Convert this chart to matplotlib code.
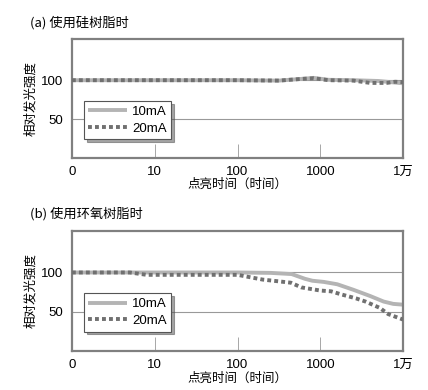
import numpy as np
import matplotlib
matplotlib.use("Agg")
import matplotlib.pyplot as plt

plt.rcParams['font.family'] = ['Liberation Sans', 'Noto Sans CJK SC', 'DejaVu Sans']

# 数据（点亮时间：小时；相对发光强度：%）
horas_a_10 = [1, 10, 100, 316, 562, 830, 1260, 2500, 5000, 10000]
vals_a_10 = [100, 100, 100, 99.5, 101.5, 103, 100.5, 100, 99, 96]
horas_a_20 = [1, 10, 100, 316, 562, 830, 1260, 2500, 4000, 6300, 8000, 10000]
vals_a_20 = [100, 100, 100, 99.5, 101.5, 102.5, 100, 99.5, 96.5, 96.5, 98, 97.5]

horas_b_10 = [1, 10, 100, 250, 450, 650, 800, 1100, 1600, 2500, 4000, 5800, 7600, 10000]
vals_b_10 = [100, 100, 100, 99.5, 98, 92, 89.5, 88, 85, 78, 70, 63, 60, 59]
horas_b_20 = [1, 5, 8, 20, 100, 200, 440, 590, 1000, 1350, 1800, 2700, 3500, 5200, 6600, 10000]
vals_b_20 = [100, 100, 97, 97, 97, 91, 87, 81, 77, 76, 72, 67, 63, 55, 47, 40]

xticks = [1, 10, 100, 1000, 10000]
xtick_labels = ["0", "10", "100", "1000", "1万"]
yticks = [50, 100]

titulos = ["(a) 使用硅树脂时", "(b) 使用环氧树脂时"]
series = [
    (horas_a_10, vals_a_10, horas_a_20, vals_a_20),
    (horas_b_10, vals_b_10, horas_b_20, vals_b_20),
]

fig = plt.figure(figsize=(4.28, 3.90), dpi=100)
posicoes = [[0.168, 0.595, 0.774, 0.305], [0.168, 0.100, 0.774, 0.308]]
cjk = ['Noto Sans CJK SC', 'DejaVu Sans']

for pos, titulo, (h10, v10, h20, v20) in zip(posicoes, titulos, series):
    ax = fig.add_axes(pos)
    ax.set_xscale('log')
    ax.set_xlim(1, 10000)
    ax.set_ylim(0, 153)
    for y in yticks:
        ax.axhline(y, color='#999999', lw=0.8, zorder=1)
    l1, = ax.plot(h10, v10, color='#b4b4b4', lw=2.8, solid_capstyle='butt', zorder=2, label='10mA')
    l2, = ax.plot(h20, v20, color='#707070', lw=2.8, linestyle=(0, (1, 0.8)),
                  dash_capstyle='butt', zorder=3, label='20mA')
    ax.set_xticks(xticks)
    ax.set_xticklabels(xtick_labels, fontsize=9.5)
    ax.xaxis.set_minor_locator(matplotlib.ticker.NullLocator())
    ax.tick_params(axis='x', direction='in', length=10, width=0.6, color='#999999', pad=6)
    ax.set_yticks(yticks)
    ax.set_yticklabels([str(y) for y in yticks], fontsize=9.5)
    ax.tick_params(axis='y', length=0, pad=6)
    for s in ax.spines.values():
        s.set_color('#808080')
        s.set_linewidth(1.6)
    ax.set_xlabel("点亮时间（时间）", fontsize=9, family=cjk, labelpad=0)
    ax.set_ylabel("相对发光强度", fontsize=9, family=cjk, labelpad=3)
    ax.text(-0.125, 1.14, titulo, transform=ax.transAxes, fontsize=9.5, family=cjk,
            ha='left', va='center')
    leg = ax.legend(handles=[l1, l2], loc='upper left', bbox_to_anchor=(0.036, 0.48),
                    fontsize=9.5, frameon=True, shadow=True, fancybox=False,
                    handlelength=2.9, handletextpad=0.4, borderpad=0.35,
                    labelspacing=0.35, borderaxespad=0)
    leg.get_frame().set_edgecolor('#555555')
    leg.get_frame().set_linewidth(0.8)

fig.savefig("out.png", dpi=100)
